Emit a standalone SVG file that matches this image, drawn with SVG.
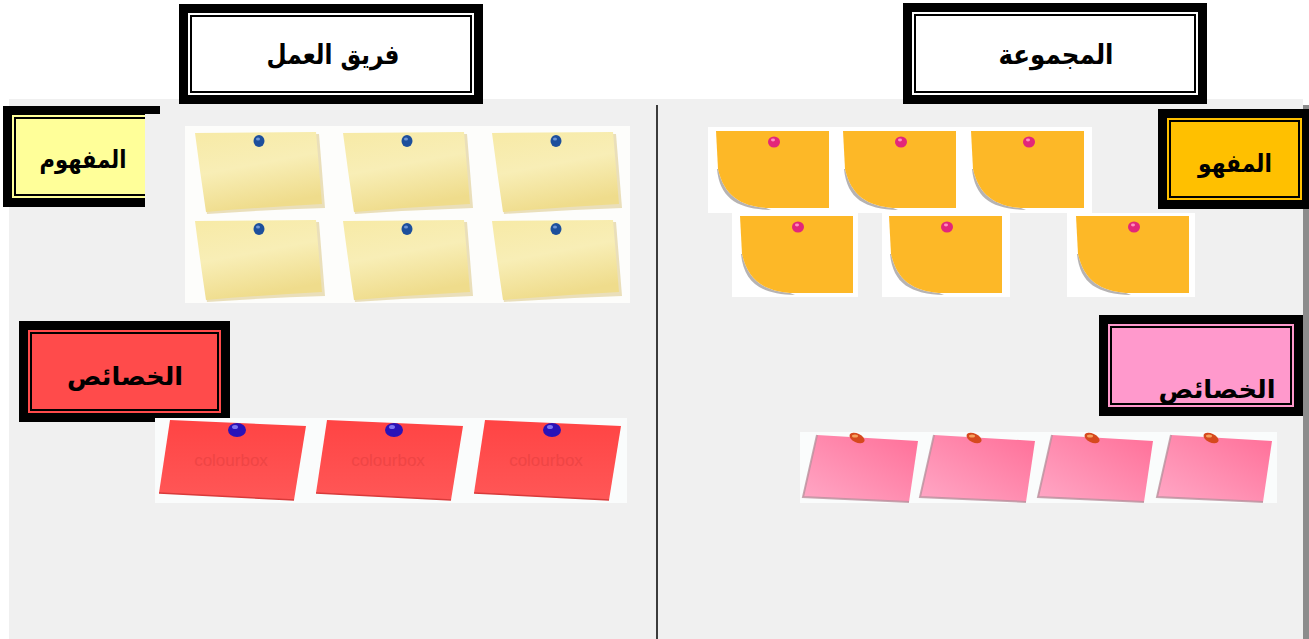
<svg xmlns="http://www.w3.org/2000/svg" width="1309" height="639" viewBox="0 0 1309 639">
<defs>
<style>
.lbl{font-family:"DejaVu Sans","Liberation Sans",sans-serif;font-weight:bold;fill:#000;text-anchor:middle}
.thin{fill:none;stroke:#000;stroke-width:2}
.wm{font-family:"Liberation Sans",sans-serif;font-size:17px;fill:#d83838;opacity:.4;text-anchor:middle}
</style>
<linearGradient id="gy" x1="0" y1="0" x2="0.3" y2="1">
<stop offset="0" stop-color="#f7eaa6"/><stop offset="0.5" stop-color="#f8eeb6"/><stop offset="1" stop-color="#efdc8c"/>
</linearGradient>
<linearGradient id="gr" x1="0" y1="0" x2="0" y2="1">
<stop offset="0" stop-color="#ff4444"/><stop offset="1" stop-color="#ff5757"/>
</linearGradient>
<linearGradient id="gp" x1="0" y1="1" x2="1" y2="0">
<stop offset="0" stop-color="#ffa8c6"/><stop offset="1" stop-color="#ff6f98"/>
</linearGradient>
<g id="ynote">
<path d="M2,4 Q6,42 12,82 Q70,78 130,76 L124,2 Z" fill="#d8c27a" opacity=".5"/>
<path d="M0,1 L121,0 L127,72 Q70,75 11,80 Q5,40 0,1 Z" fill="url(#gy)"/>
<ellipse cx="64" cy="9" rx="5.5" ry="6" fill="#1d4f9c"/>
<ellipse cx="63" cy="7" rx="2" ry="1.6" fill="#6d95d6"/>
</g>
<g id="onote">
<path d="M1,38 C4,68 22,78 55,79 L50,77 C25,75 8,65 2,38 Z" fill="#7a7474" opacity=".55"/>
<path d="M0,0 H113 V77 H50 C25,75 8,65 2,38 Z" fill="#fdb827"/>
<ellipse cx="58" cy="11" rx="6" ry="5.5" fill="#e3267a"/>
<ellipse cx="57" cy="9" rx="2" ry="1.4" fill="#ff8fc0"/>
</g>
<g id="rnote">
<path d="M11,0 L147,6 L135,80 L0,73 Z" fill="url(#gr)"/>
<path d="M0,73 L135,80" stroke="#d83a3a" stroke-width="1.5" fill="none"/>
<text x="72" y="46" class="wm">colourbox</text>
<ellipse cx="78" cy="10" rx="9" ry="7" fill="#2a12b8"/>
<ellipse cx="76" cy="7" rx="3" ry="2" fill="#7f74f0"/>
</g>
<g id="pnote">
<path d="M14,0 L115,6 L106,67 L0,62 Z" fill="url(#gp)"/>
<path d="M14,0 L0,62 L106,67" stroke="#b9909c" stroke-width="2" fill="none" opacity=".8"/>
<ellipse cx="54" cy="3" rx="8" ry="4.5" fill="#d6491e" transform="rotate(25 54 3)"/>
<ellipse cx="52" cy="1" rx="3" ry="1.5" fill="#f6a15c"/>
</g>
</defs>

<rect x="0" y="0" width="1309" height="639" fill="#ffffff"/>
<rect x="9" y="99" width="1294" height="540" fill="#f0f0f0"/>
<rect x="1303" y="105" width="6" height="534" fill="#8c8c8c"/>
<line x1="657" y1="105" x2="657" y2="639" stroke="#000" stroke-width="1.5"/>

<g id="title-team">
<rect x="179" y="4" width="304" height="100" fill="#000"/>
<rect x="188" y="13" width="286" height="82" fill="#fff"/>
<rect x="191" y="16" width="280" height="76" class="thin"/>
<text x="333" y="64" class="lbl" font-size="27" textLength="133" lengthAdjust="spacingAndGlyphs">فريق العمل</text>
</g>

<g id="title-group">
<rect x="903" y="3" width="304" height="101" fill="#000"/>
<rect x="912" y="12" width="286" height="83" fill="#fff"/>
<rect x="915" y="15" width="280" height="77" class="thin"/>
<text x="1056" y="64" class="lbl" font-size="27" textLength="115" lengthAdjust="spacingAndGlyphs">المجموعة</text>
</g>

<g id="concept-left">
<path d="M3,106 H160 V114 H145 V207 H3 Z" fill="#000"/>
<rect x="12" y="115" width="133" height="83" fill="#ffff99"/>
<path d="M145,118 H15 V195 H145" class="thin"/>
<text x="83" y="168" class="lbl" font-size="25" textLength="87" lengthAdjust="spacingAndGlyphs">المفهوم</text>
</g>

<g id="concept-right">
<rect x="1158" y="109" width="151" height="100" fill="#000"/>
<rect x="1167" y="118" width="135" height="82" fill="#ffc000"/>
<rect x="1170" y="121" width="129" height="76" class="thin"/>
<text x="1235" y="172" class="lbl" font-size="25" textLength="74" lengthAdjust="spacingAndGlyphs">المفهو</text>
</g>

<g id="props-left">
<rect x="19" y="321" width="211" height="101" fill="#000"/>
<rect x="28" y="330" width="193" height="83" fill="#ff4b4b"/>
<rect x="31" y="333" width="187" height="77" class="thin"/>
<text x="125" y="385" class="lbl" font-size="25" textLength="116" lengthAdjust="spacingAndGlyphs">الخصائص</text>
</g>

<g id="props-right">
<rect x="1099" y="315" width="204" height="101" fill="#000"/>
<rect x="1108" y="324" width="186" height="83" fill="#ff99cc"/>
<rect x="1111" y="327" width="180" height="77" class="thin"/>
<text x="1217" y="398" class="lbl" font-size="25" textLength="117" lengthAdjust="spacingAndGlyphs">الخصائص</text>
</g>

<g id="yellow-notes">
<rect x="185" y="126" width="445" height="177" fill="#fdfdfb"/>
<use href="#ynote" x="195" y="132"/>
<use href="#ynote" x="343" y="132"/>
<use href="#ynote" x="492" y="132"/>
<use href="#ynote" x="195" y="220"/>
<use href="#ynote" x="343" y="220"/>
<use href="#ynote" x="492" y="220"/>
</g>

<g id="orange-notes">
<rect x="708" y="127" width="384" height="86" fill="#fff"/>
<rect x="732" y="213" width="126" height="84" fill="#fff"/>
<rect x="882" y="213" width="128" height="84" fill="#fff"/>
<rect x="1067" y="213" width="128" height="84" fill="#fff"/>
<use href="#onote" x="716" y="131"/>
<use href="#onote" x="843" y="131"/>
<use href="#onote" x="971" y="131"/>
<use href="#onote" x="740" y="216"/>
<use href="#onote" x="889" y="216"/>
<use href="#onote" x="1076" y="216"/>
</g>

<g id="red-notes">
<rect x="155" y="418" width="472" height="85" fill="#fafcfc"/>
<use href="#rnote" x="159" y="420"/>
<use href="#rnote" x="316" y="420"/>
<use href="#rnote" x="474" y="420"/>
</g>

<g id="pink-notes">
<rect x="800" y="432" width="477" height="71" fill="#fafcfc"/>
<use href="#pnote" x="803" y="435"/>
<use href="#pnote" x="920" y="435"/>
<use href="#pnote" x="1038" y="435"/>
<use href="#pnote" x="1157" y="435"/>
</g>
</svg>
